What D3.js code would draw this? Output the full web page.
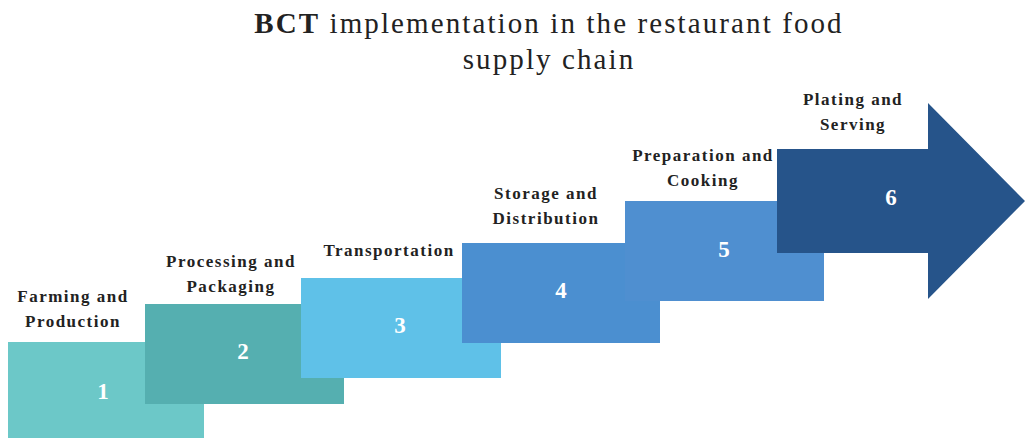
<!DOCTYPE html>
<html><head><meta charset="utf-8">
<script src="https://cdn.jsdelivr.net/npm/d3@7"></script>
<style>
html,body{margin:0;padding:0;background:#fff;}
svg{display:block;}
</style></head>
<body>
<svg id="chart" width="1025" height="438"></svg>
<script>
// Data
const stepNumbers = ["1","2","3","4","5","6"];
const stepLabels = [
  ["Farming and","Production"],
  ["Processing and","Packaging"],
  ["Transportation"],
  ["Storage and","Distribution"],
  ["Preparation and","Cooking"],
  ["Plating and","Serving"]
];
const stepColors = ["#6cc8c8","#55afb0","#5fc1e8","#4b8fd0","#4f8fd0","#26548a"];
const titleLines = [["BCT"," implementation in the restaurant food"],["","supply chain"]];

// Layout (positions kept separate from data)
const stepLeft = [8,145,301,462,625,777];
const stepTop  = [342,304,278,243,201,149];
const boxW = [196,199,200,198,199,151];
const boxH = 97;

const svg = d3.select("#chart");
const font = "'Liberation Serif','Times New Roman',serif";

const g = svg.append("g");

stepNumbers.forEach((n,i)=>{
  const x = stepLeft[i], y = stepTop[i], w = boxW[i];
  if (i < 5) {
    g.append("rect").attr("x",x).attr("y",y).attr("width",w).attr("height",i===0?96:boxH+3)
      .attr("fill",stepColors[i]);
  } else {
    const headX = x + w, tipX = 1025, top = 103, bot = 299, mid = (top+bot)/2;
    const path = d3.path();
    path.moveTo(x,y); path.lineTo(headX,y); path.lineTo(headX,top); path.lineTo(tipX,mid);
    path.lineTo(headX,bot); path.lineTo(headX,253); path.lineTo(x,253); path.closePath();
    g.append("path").attr("d",path.toString()).attr("fill",stepColors[i]);
  }
});

const numPos = [[103,399],[243,359],[400,333],[561,298],[724,257],[891,205]];
stepNumbers.forEach((n,i)=>{
  g.append("text").attr("x",numPos[i][0]).attr("y",numPos[i][1])
    .attr("text-anchor","middle").attr("font-family",font).attr("font-weight","bold")
    .attr("font-size",23).attr("fill","#ffffff").text(n);
});

const labelPos = [[73,302],[231,267],[389,256],[546,199],[703,161],[853,105]];
stepLabels.forEach((lines,i)=>{
  const t = g.append("text").attr("text-anchor","middle").attr("font-family",font)
    .attr("font-weight","bold").attr("font-size",17).attr("fill","#222")
    .attr("letter-spacing","1.5px");
  lines.forEach((l,j)=>{
    t.append("tspan").attr("x",labelPos[i][0]).attr("y",labelPos[i][1]+j*25).text(l);
  });
});

const title = svg.append("text").attr("text-anchor","middle").attr("font-family",font)
  .attr("font-size",29).attr("fill","#222").attr("letter-spacing","2.1px");
titleLines.forEach((parts,j)=>{
  const ts = title.append("tspan").attr("x",549).attr("y",33+j*36);
  if (parts[0]) { ts.attr("font-weight","bold").text(parts[0]); 
    title.append("tspan").text(parts[1]); }
  else ts.text(parts[1]);
});
</script>
</body></html>
